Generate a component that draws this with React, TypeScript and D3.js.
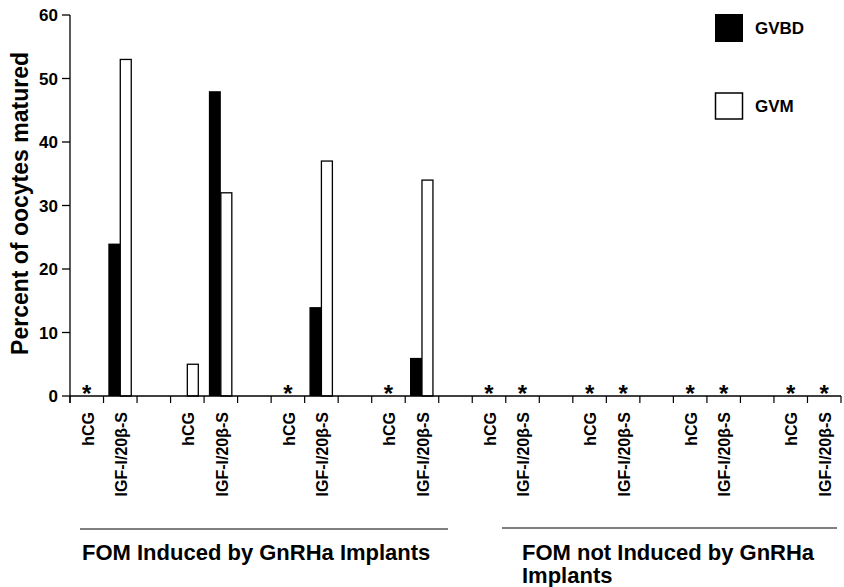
import React from "react";
import * as d3 from "d3";

// Slots along the x axis: hCG / IGF-I/20β-S pairs, separated by empty slots
const categories = [
  "hCG", "IGF-I/20β-S", "",
  "hCG", "IGF-I/20β-S", "",
  "hCG", "IGF-I/20β-S", "",
  "hCG", "IGF-I/20β-S", "",
  "hCG", "IGF-I/20β-S", "",
  "hCG", "IGF-I/20β-S", "",
  "hCG", "IGF-I/20β-S", "",
  "hCG", "IGF-I/20β-S",
];
// GVBD (black) and GVM (white) percentages; null = empty slot
const gvbd = [0, 24, null, 0, 48, null, 0, 14, null, 0, 6, null, 0, 0, null, 0, 0, null, 0, 0, null, 0, 0];
const gvm = [0, 53, null, 5, 32, null, 0, 37, null, 0, 34, null, 0, 0, null, 0, 0, null, 0, 0, null, 0, 0];
const series = ["GVBD", "GVM"];
const yTicks = [0, 10, 20, 30, 40, 50, 60];
const groupLabels = ["FOM Induced by GnRHa Implants", "FOM not Induced by GnRHa", "Implants"];

const W = 844;
const H = 587;
const FONT = "'Liberation Sans', Arial, Helvetica, sans-serif";

export default function App() {
  const x0 = d3.scaleBand<number>().domain(d3.range(categories.length)).range([70, 841]).padding(0);
  const x1 = d3.scaleBand<string>().domain(series).range([0, x0.bandwidth()]).paddingInner(0).paddingOuter(0.4);
  const y = d3.scaleLinear().domain([0, 60]).range([396, 15]);
  const y0 = y(0);

  const boundaries = d3.range(categories.length + 1).map((i) => 70 + i * x0.bandwidth());

  return (
    <svg width={W} height={H} style={{ position: "absolute", left: 0, top: 0, background: "#fff" }} fontFamily={FONT}>
      <rect x={0} y={0} width={W} height={H} fill="#fff" />
      {/* y axis title */}
      <text
        transform={`translate(28, ${(15 + y0) / 2 - 2}) rotate(-90)`}
        textAnchor="middle"
        fontSize={23}
        fontWeight="bold"
      >
        Percent of oocytes matured
      </text>
      {/* y axis */}
      <line x1={70} x2={70} y1={y(60)} y2={403} stroke="#000" strokeWidth={1.3} />
      {yTicks.map((t) => (
        <g key={t}>
          <line x1={62} x2={70} y1={y(t)} y2={y(t)} stroke="#000" strokeWidth={1.3} />
          <text x={58} y={y(t)} dy="0.36em" textAnchor="end" fontSize={17} fontWeight="bold">
            {t}
          </text>
        </g>
      ))}
      {/* bars */}
      {categories.map((c, i) => {
        const a = gvbd[i];
        const b = gvm[i];
        if (a === null || b === null) return null;
        const bx = x0(i)!;
        const cx = bx + x0.bandwidth() / 2;
        if (a === 0 && b === 0) {
          return (
            <text key={i} x={cx} y={402} textAnchor="middle" fontSize={24} fontWeight="bold">
              *
            </text>
          );
        }
        return (
          <g key={i}>
            {a > 0 && (
              <rect x={bx + x1("GVBD")!} y={y(a)} width={x1.bandwidth()} height={y0 - y(a)} fill="#000" />
            )}
            {b > 0 && (
              <rect
                x={bx + x1("GVM")!}
                y={y(b)}
                width={x1.bandwidth() - 1}
                height={y0 - y(b)}
                fill="#fff"
                stroke="#000"
                strokeWidth={1.3}
              />
            )}
          </g>
        );
      })}
      {/* x axis */}
      <line x1={70} x2={841} y1={y0} y2={y0} stroke="#000" strokeWidth={1.3} />
      {boundaries.map((bx, i) => (
        <line key={i} x1={bx} x2={bx} y1={y0} y2={403} stroke="#000" strokeWidth={1.2} />
      ))}
      {categories.map((c, i) =>
        c ? (
          <text
            key={i}
            transform={`translate(${x0(i)! + x0.bandwidth() / 2 + 1}, 412) rotate(-90)`}
            textAnchor="end"
            dy="0.36em"
            fontSize={16}
            fontWeight="bold"
          >
            {c}
          </text>
        ) : null
      )}
      {/* group lines and labels */}
      <line x1={80} x2={448} y1={529} y2={529} stroke="#000" strokeWidth={1.2} />
      <line x1={502} x2={837} y1={528} y2={528} stroke="#000" strokeWidth={1.2} />
      <text x={82} y={560} fontSize={22} fontWeight="bold">{groupLabels[0]}</text>
      <text x={522} y={560} fontSize={22} fontWeight="bold">{groupLabels[1]}</text>
      <text x={522} y={583} fontSize={22} fontWeight="bold">{groupLabels[2]}</text>
      {/* legend */}
      <rect x={715} y={14} width={28} height={28} fill="#000" />
      <text x={755} y={28} dy="0.36em" fontSize={17} fontWeight="bold">{series[0]}</text>
      <rect x={715.5} y={93} width={27} height={26} fill="#fff" stroke="#000" strokeWidth={1.5} />
      <text x={755} y={106} dy="0.36em" fontSize={17} fontWeight="bold">{series[1]}</text>
    </svg>
  );
}
